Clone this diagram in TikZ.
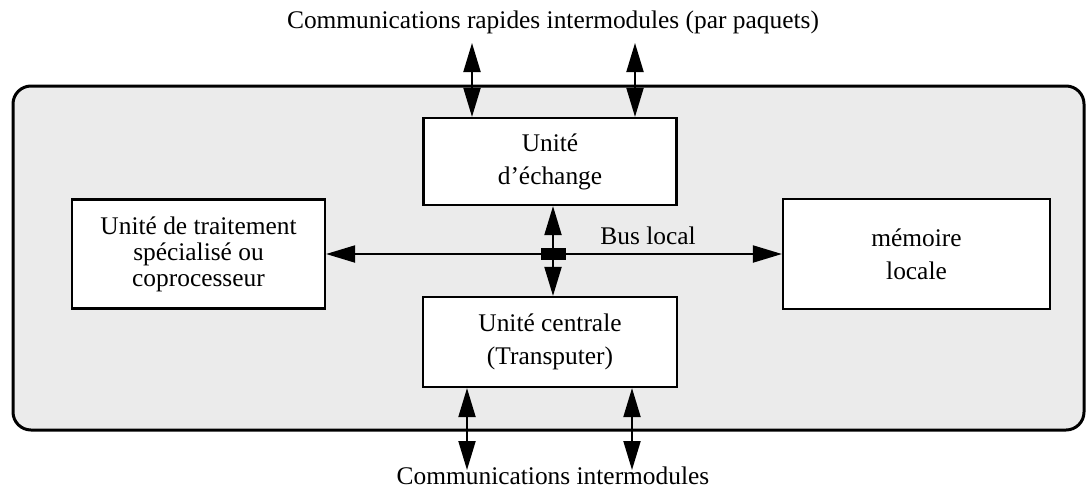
\documentclass[tikz,border=0pt]{standalone}
\usepackage{fontspec}
\setmainfont{Liberation Serif}
\usepackage{tikz}
\usetikzlibrary{positioning}
\usetikzlibrary{calc}
\usetikzlibrary{arrows.meta}
\colorlet{module colour}{black!8}
\colorlet{unit colour}{white}
\tikzset{
    % Large solid heads, as on the original plates
    >={Triangle[length=14.5pt, width=8.5pt]},
%
    % Fills
    module fill/.style={fill=module colour},
    unit fill/.style={fill=unit colour},
%
    % Every text is centred and in the same face
    every node/.style={align=center, font=\fontsize{12.7}{13}\selectfont},
%
    module/.style={
        draw, line width=1.5pt, rounded corners=9pt, module fill},
    unit/.style={
        draw, rectangle, line width=1.1pt, unit fill, inner sep=0},
    link/.style={draw, line width=1pt, <->},
    bus/.style={draw, line width=1pt, ->},
    junction/.style={
        fill, rectangle, inner sep=0, minimum width=12.5pt, minimum height=6pt},
}

\begin{document}
\begin{tikzpicture}[x=0.5pt, y=-0.5pt]
    \useasboundingbox (0,0) rectangle (1086,493);

    % The module and its units
    \path [module] (13,86) rectangle (1084,430);

    \node (echange) [unit, minimum width=126.5pt, minimum height=43.5pt]
        at (550,161.5) {Unité\\[3.5pt]d'échange};
    \node (centrale) [unit, minimum width=127pt, minimum height=45pt]
        at (550,342) {Unité centrale\\[3.5pt](Transputer)};
    \node (traitement) [unit, minimum width=126.5pt, minimum height=54.5pt]
        at (198.5,254) {Unité de traitement\\spécialisé ou\\coprocesseur};
    \node (memoire) [unit, minimum width=133.5pt, minimum height=55pt]
        at (916.5,254) {mémoire\\[3.5pt]locale};

    % Local bus
    \node (jonction) [junction] at (553,254) {};
    \node (bus label) at (648,236) {Bus local};
    \path [bus] (jonction.center) -- (traitement.east);
    \path [bus] (jonction.center) -- (memoire.west);
    \path [bus] (jonction.center) -- (jonction |- echange.south);
    \path [bus] (jonction.center) -- (jonction |- centrale.north);

    % Links to the other modules
    \node (rapides) at (553,22)
        {Communications rapides intermodules (par paquets)};
    \node (lentes) at (553,476) {Communications intermodules};

    \coordinate (rapide a) at (472,43);
    \coordinate (rapide b) at (635,43);
    \coordinate (lente a) at (467,470);
    \coordinate (lente b) at (632,470);

    \path [link] (rapide a) -- (rapide a |- echange.north);
    \path [link] (rapide b) -- (rapide b |- echange.north);
    \path [link] (lente a) -- (lente a |- centrale.south);
    \path [link] (lente b) -- (lente b |- centrale.south);
\end{tikzpicture}
\end{document}
